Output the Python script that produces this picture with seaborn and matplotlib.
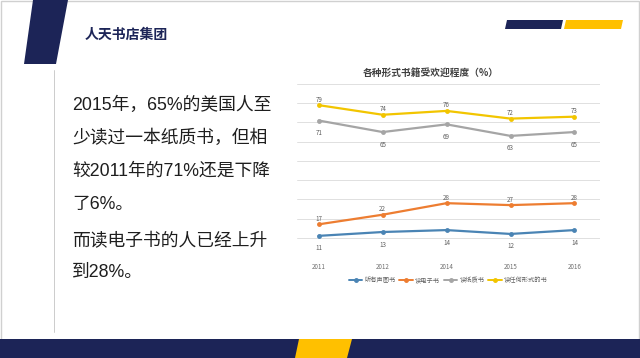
import matplotlib
matplotlib.use("Agg")
import matplotlib.pyplot as plt
import seaborn as sns
import pandas as pd
import numpy as np
from matplotlib.patches import Polygon, Rectangle
from matplotlib.lines import Line2D

# ---- data ----
years = ["2011", "2012", "2014", "2015", "2016"]
series_names = ["听有声图书", "读电子书", "读纸质书", "读任何形式的书"]
audio = [11, 13, 14, 12, 14]
ebook = [17, 22, 28, 27, 28]
paper = [71, 65, 69, 63, 65]
anyform = [79, 74, 76, 72, 73]
chart_title = "各种形式书籍受欢迎程度（%）"
header_title = "人天书店集团"
body_lines = ["2015年，65%的美国人至", "少读过一本纸质书，但相", "较2011年的71%还是下降",
              "了6%。", "而读电子书的人已经上升", "到28%。"]

colors = ["#4a84b4", "#ED7D31", "#A5A5A5", "#F2C500"]
label_offsets = [-9, 4, -9, 4]  # points

sns.set_theme(style="white")
plt.rcParams['font.family'] = ['Noto Sans CJK SC', 'DejaVu Sans']

W, H = 640, 358
fig = plt.figure(figsize=(W / 100, H / 100), dpi=100)
fig.patch.set_facecolor("white")

def fp(x, y):
    return (x / W, 1 - y / H)

navy = "#1c2457"
gold = "#FFC000"

# slide border
fig.add_artist(Rectangle((0.002, 0.002), 0.996, 0.996, transform=fig.transFigure,
                         fill=False, edgecolor="#d0d0d0", lw=1))
# header slanted bar
fig.add_artist(Polygon([fp(33, 0), fp(68, 0), fp(56, 64), fp(24, 64)], closed=True,
                       transform=fig.transFigure, color=navy, lw=0))
# top-right bars
fig.add_artist(Polygon([fp(507, 20), fp(563, 20), fp(561, 29), fp(505, 29)], closed=True,
                       transform=fig.transFigure, color=navy, lw=0))
fig.add_artist(Polygon([fp(566, 20), fp(623, 20), fp(621, 29), fp(564, 29)], closed=True,
                       transform=fig.transFigure, color=gold, lw=0))
# bottom band
fig.add_artist(Rectangle(fp(0, 358), 1, 19 / H, transform=fig.transFigure, color=navy, lw=0))
fig.add_artist(Polygon([fp(299, 339), fp(352, 339), fp(347, 358), fp(295, 358)], closed=True,
                       transform=fig.transFigure, color=gold, lw=0))
# thin vertical line
fig.add_artist(Line2D([54 / W, 54 / W], [1 - 70 / H, 1 - 332 / H], transform=fig.transFigure,
                      color="#c4c4c4", lw=0.6))

# header title
fig.text(*fp(85, 35), header_title, fontsize=10, fontweight="bold", color=navy,
         va="center", ha="left")

# body text
body_y = [105, 138, 171, 205, 242, 272]
for line, yy in zip(body_lines, body_y):
    fig.text(*fp(72, yy), line, fontsize=12.8, color="#1e1e1e", va="center", ha="left",
             family=['Liberation Sans', 'Noto Sans CJK SC'])

# ---- chart ----
df = pd.DataFrame({
    "x": list(range(len(years))) * 4,
    "value": audio + ebook + paper + anyform,
    "series": sum([[n] * len(years) for n in series_names], []),
})

ax = fig.add_axes([297 / W, 1 - 257 / H, 303 / W, 173 / H])
sns.lineplot(data=df, x="x", y="value", hue="series", hue_order=series_names,
             palette=colors, marker="o", markersize=3.5, markeredgewidth=0,
             linewidth=1.6, ax=ax, legend=False)

ax.set_ylim(0, 90)
ax.set_xlim(-0.34, 4.4)
ax.set_yticks(np.arange(0, 91, 10))
ax.set_yticklabels([])
ax.set_xticks(range(len(years)))
ax.set_xticklabels(years, fontsize=4.5, color="#707070")
ax.tick_params(axis="x", length=0, pad=4)
ax.tick_params(axis="y", length=0)
ax.grid(axis="y", color="#e0e0e0", lw=0.7)
ax.grid(axis="x", visible=False)
for s in ax.spines.values():
    s.set_visible(False)
ax.set_xlabel("")
ax.set_ylabel("")

for vals, off, c in zip([audio, ebook, paper, anyform], label_offsets, colors):
    for i, v in enumerate(vals):
        ax.annotate(str(v), (i, v), xytext=(0, off), textcoords="offset points",
                    ha="center", va="center", fontsize=4.5, color="#606060")

fig.text(*fp(431, 73), chart_title, fontsize=7, fontweight="bold", color="#404040",
         ha="center", va="center")

handles = [Line2D([0], [0], color=c, lw=1.4, marker="o", markersize=2.5) for c in colors]
fig.legend(handles, series_names, loc="center", bbox_to_anchor=fp(448, 280),
           ncol=4, frameon=False, fontsize=4.5, handlelength=2.2, columnspacing=0.6,
           handletextpad=0.3, labelcolor="#606060")

fig.savefig("out.png", dpi=100)
